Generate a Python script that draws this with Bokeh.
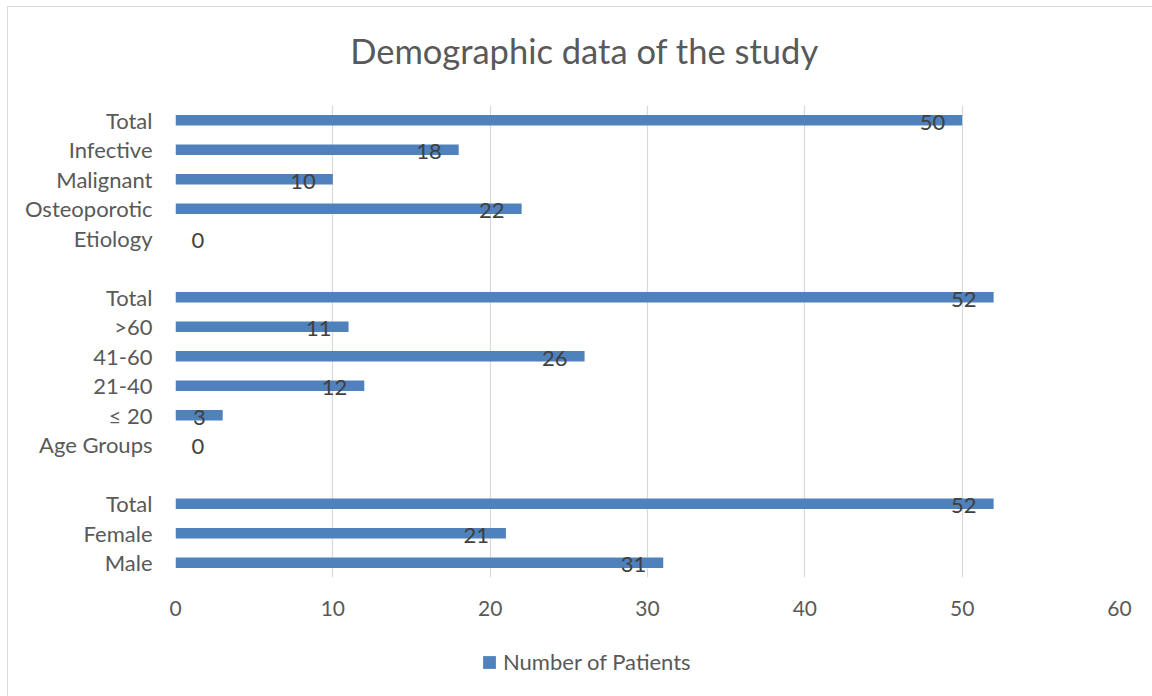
from bokeh.plotting import figure
from bokeh.layouts import column
from bokeh.models import (ColumnDataSource, FixedTicker, Label, Legend, LegendItem,
                          Range1d)
from bokeh.core.properties import value
from bokeh.embed import file_html
from bokeh.resources import INLINE

# Rows listed bottom to top; "" marks a spacer row between groups
categories = ["Male", "Female", "Total", "",
              "Age Groups", "\u2264 20", "21-40", "41-60", ">60", "Total", "",
              "Etiology", "Osteoporotic", "Malignant", "Infective", "Total"]
patients = [31, 21, 52, None,
            0, 3, 12, 26, 11, 52, None,
            0, 22, 10, 18, 50]
x_ticks = [0, 10, 20, 30, 40, 50, 60]
series_name = "Number of Patients"
chart_title = "Demographic data of the study"

FONT = "Lato"
TEXT = "#595959"
BAR = "#4F81BD"
GRID = "#D9D9D9"

rows = [i for i, v in enumerate(patients) if v is not None]
vals = [patients[i] for i in rows]

bars = ColumnDataSource(dict(y=rows, v=vals))
labels = ColumnDataSource(dict(
    y=rows,
    x=vals,
    txt=[str(v) for v in vals],
    align=["right" if v > 0 else "left" for v in vals],
    dx=[-17 if v > 0 else 16 for v in vals],
))


def bare_strip(height):
    """A plain figure with no axes or grid, used for the title and legend rows."""
    f = figure(width=1144, height=height, output_backend="svg",
               toolbar_location=None, x_axis_location=None,
               y_axis_location=None, min_border=0,
               x_range=Range1d(10, 11), y_range=Range1d(10, 11))
    f.outline_line_color = None
    f.xgrid.visible = False
    f.ygrid.visible = False
    return f


# title row (its frame lines up with the chart frame, 176 px from the left)
head = bare_strip(98)
head.add_layout(Label(x=409, y=55, x_units="screen", y_units="screen",
                      text=chart_title, text_align="center",
                      text_baseline="middle", text_font=FONT,
                      text_font_size="34.5px", text_color=TEXT))

# main chart
p = figure(frame_width=944, frame_height=472, output_backend="svg",
           toolbar_location=None,
           x_range=(0, 60), y_range=(-0.5, len(categories) - 0.5),
           min_border_left=167, min_border_right=32,
           min_border_top=0, min_border_bottom=63)
p.outline_line_color = None
p.background_fill_color = "white"
p.border_fill_color = "white"

r = p.hbar(y="y", right="v", left=0, height=0.36, source=bars,
           fill_color=BAR, line_color=None)

p.text(x="x", y="y", text="txt", source=labels, text_align="align",
       x_offset="dx", y_offset=2, text_baseline="middle",
       text_font=value(FONT), text_font_size="22px", text_color="#404040")

p.xaxis.ticker = FixedTicker(ticks=x_ticks)
p.xaxis.axis_line_color = None
p.xaxis.major_tick_line_color = None
p.xaxis.minor_tick_line_color = None
p.xaxis.major_label_text_font = FONT
p.xaxis.major_label_text_font_size = "21px"
p.xaxis.major_label_text_color = TEXT
p.xaxis.major_label_standoff = 17

p.yaxis.ticker = FixedTicker(ticks=list(range(len(categories))))
p.yaxis.major_label_overrides = {i: c for i, c in enumerate(categories)}
p.yaxis.axis_line_color = None
p.yaxis.major_tick_line_color = None
p.yaxis.minor_tick_line_color = None
p.yaxis.major_label_text_font = FONT
p.yaxis.major_label_text_font_size = "22px"
p.yaxis.major_label_text_color = TEXT
p.yaxis.major_label_standoff = 17

p.ygrid.grid_line_color = None
p.xgrid.ticker = FixedTicker(ticks=x_ticks)
p.xgrid.grid_line_color = GRID
p.xgrid.grid_line_width = 1.2

# legend row; the swatch renderer sits outside the strip's visible range
key = bare_strip(56)
swatch = key.hbar(y=[0], right=[1], left=0, height=0.36,
                  fill_color=BAR, line_color=None)
legend = Legend(items=[LegendItem(label=series_name, renderers=[swatch])],
                location=(306, 21), orientation="horizontal",
                glyph_width=16, glyph_height=16, label_height=16,
                label_standoff=6, padding=0, margin=0, spacing=0,
                border_line_color=None, background_fill_alpha=0,
                label_text_font=FONT, label_text_font_size="22px",
                label_text_color=TEXT)
key.add_layout(legend, "center")

page = column(head, p, key, spacing=0)
page.styles = {"margin-left": "7px", "margin-top": "6px",
               "border-left": f"1px solid {GRID}", "border-top": f"1px solid {GRID}"}

with open("out.html", "w") as f:
    f.write(file_html(page, INLINE))
